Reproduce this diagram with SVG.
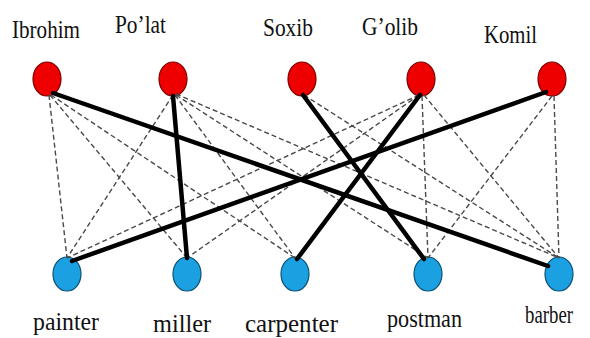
<svg xmlns="http://www.w3.org/2000/svg" width="590" height="338" viewBox="0 0 590 338">
<style>
.lbl{font-family:"Liberation Serif","Times New Roman",Times,serif;font-size:26px;fill:#111}
.p{fill:#ee0000;stroke:#7a0000;stroke-width:1.2}
.j{fill:#1ba1e2;stroke:#0c4f73;stroke-width:1.2}
.d{stroke:#4a4a4a;stroke-width:1.4;stroke-dasharray:5 3;fill:none}
.s{stroke:#000;stroke-width:4.5;fill:none;stroke-linecap:round}
</style>
<rect width="590" height="338" fill="#fff"/>
<g id="nodes">
<g id="ibrohim"><ellipse class="p" cx="47" cy="79" rx="14" ry="17"/><text class="lbl" x="12" y="38" textLength="68" lengthAdjust="spacingAndGlyphs">Ibrohim</text></g>
<g id="polat"><ellipse class="p" cx="173" cy="79" rx="14" ry="17"/><text class="lbl" x="115" y="33" textLength="51" lengthAdjust="spacingAndGlyphs">Po’lat</text></g>
<g id="soxib"><ellipse class="p" cx="302" cy="79" rx="14" ry="17"/><text class="lbl" x="263" y="36" textLength="50" lengthAdjust="spacingAndGlyphs">Soxib</text></g>
<g id="golib"><ellipse class="p" cx="421" cy="79" rx="14" ry="17"/><text class="lbl" x="362" y="35" textLength="56" lengthAdjust="spacingAndGlyphs">G’olib</text></g>
<g id="komil"><ellipse class="p" cx="552" cy="79" rx="14" ry="17"/><text class="lbl" x="484" y="43" textLength="53" lengthAdjust="spacingAndGlyphs">Komil</text></g>
<g id="painter"><ellipse class="j" cx="67" cy="274" rx="14" ry="17"/><text class="lbl" x="33" y="330" textLength="66" lengthAdjust="spacingAndGlyphs">painter</text></g>
<g id="miller"><ellipse class="j" cx="187" cy="274" rx="14" ry="17"/><text class="lbl" x="153" y="332" textLength="58" lengthAdjust="spacingAndGlyphs">miller</text></g>
<g id="carpenter"><ellipse class="j" cx="295" cy="274" rx="14" ry="17"/><text class="lbl" x="245" y="332" textLength="93" lengthAdjust="spacingAndGlyphs">carpenter</text></g>
<g id="postman"><ellipse class="j" cx="428" cy="274" rx="14" ry="17"/><text class="lbl" x="387" y="327" textLength="75" lengthAdjust="spacingAndGlyphs">postman</text></g>
<g id="barber"><ellipse class="j" cx="559" cy="274" rx="14" ry="17"/><text class="lbl" x="525" y="323" textLength="48" lengthAdjust="spacingAndGlyphs">barber</text></g>
</g>
<g id="connectors">
<line class="d" x1="49" y1="95" x2="67" y2="258"/>
<line class="d" x1="50" y1="95" x2="187" y2="258"/>
<line class="d" x1="51" y1="95" x2="295" y2="258"/>
<line class="d" x1="173" y1="95" x2="67" y2="258"/>
<line class="d" x1="175" y1="95" x2="295" y2="258"/>
<line class="d" x1="176" y1="95" x2="428" y2="258"/>
<line class="d" x1="176" y1="94" x2="559" y2="258"/>
<line class="d" x1="304" y1="95" x2="559" y2="258"/>
<line class="d" x1="419" y1="95" x2="67" y2="258"/>
<line class="d" x1="419" y1="95" x2="187" y2="258"/>
<line class="d" x1="422" y1="96" x2="428" y2="258"/>
<line class="d" x1="424" y1="95" x2="559" y2="258"/>
<line class="d" x1="552" y1="96" x2="428" y2="258"/>
<line class="d" x1="554" y1="96" x2="559" y2="258"/>
<line class="s" x1="53" y1="93" x2="548" y2="266"/>
<line class="s" x1="173" y1="96" x2="187" y2="258"/>
<line class="s" x1="303" y1="95" x2="424" y2="259"/>
<line class="s" x1="420" y1="95" x2="297" y2="259"/>
<line class="s" x1="546" y1="92" x2="72" y2="261"/>
</g>
</svg>
